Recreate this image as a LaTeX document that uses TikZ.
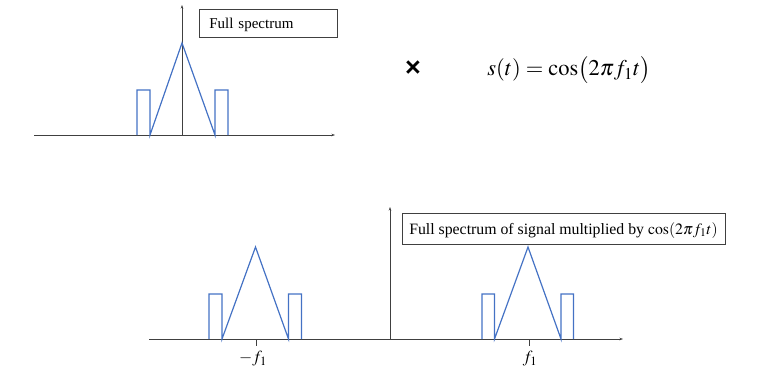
\documentclass[tikz,border=0pt]{standalone}
\usepackage{mathptmx}
\usepackage{fontspec}
\setmainfont{Liberation Serif}
\newfontfamily\crossfont{Liberation Sans}
\usetikzlibrary{arrows.meta}
\definecolor{specblue}{HTML}{4472C4}
\definecolor{axisgray}{HTML}{404040}
\tikzset{
  axisline/.style={draw=axisgray, line width=0.8pt, -{Stealth[length=3.5pt,width=2.5pt]}},
  specline/.style={draw=specblue, line width=1.2pt, line join=miter},
  labelbox/.style={draw=axisgray, line width=0.8pt, fill=white, inner sep=0pt, font=\fontsize{15}{17}\selectfont, text height=14pt, text depth=3pt},
  ticklbl/.style={font=\fontsize{17}{19}\selectfont, inner sep=1pt}
}
\begin{document}
\begin{tikzpicture}[x=1pt,y=-1pt]
\useasboundingbox (0,0) rectangle (770,386);
% ---- top plot
\coordinate (tx0) at (34,135);
\coordinate (tx1) at (335,135);
\coordinate (ty0) at (182,135);
\coordinate (ty1) at (182,5);
\draw[axisline] (tx0) -- (tx1);
\draw[axisline] (ty0) -- (ty1);
\draw[specline] (137,135) -- (137,90) -- (150,90) -- (150,135) -- (182,43) -- (215,135) -- (215,90) -- (228,90) -- (228,135);
\node[labelbox, minimum width=138.5pt, minimum height=28pt, text width=118pt, align=left] (boxA) at (268.3,23) {Full spectrum};
% ---- multiply and s(t)
\node[font=\crossfont\bfseries\fontsize{27}{29}\selectfont, inner sep=0pt] (times) at (413,69) {×};
\node[font=\fontsize{22.5}{24}\selectfont] (eq) at (569,70) {$s(t) = \cos\bigl(2\pi f_1 t\bigr)$};
% ---- bottom plot
\coordinate (bx0) at (149,339);
\coordinate (bx1) at (623,339);
\coordinate (by0) at (390,339);
\coordinate (by1) at (390,207);
\draw[axisline] (bx0) -- (bx1);
\draw[axisline] (by0) -- (by1);
\draw[specline] (209,339) -- (209,294) -- (222,294) -- (222,339) -- (255.5,247) -- (288.5,339) -- (288.5,294) -- (301.5,294) -- (301.5,339);
\draw[specline] (482,339) -- (482,294) -- (494.5,294) -- (494.5,339) -- (528,247) -- (561,339) -- (561,294) -- (573.5,294) -- (573.5,339);
\coordinate (tl0) at (256,339);
\coordinate (tl1) at (256,346);
\coordinate (tr0) at (529,339);
\coordinate (tr1) at (529,346);
\draw[axisgray, line width=0.8pt] (tl0) -- (tl1);
\draw[axisgray, line width=0.8pt] (tr0) -- (tr1);
\node[ticklbl, anchor=north] (lblL) at (253,350) {$-f_1$};
\node[ticklbl, anchor=north] (lblR) at (530,350) {$f_1$};
\node[labelbox, font=\fontsize{15.8}{18}\selectfont, minimum width=323pt, minimum height=31pt] (boxB) at (563.5,228.5) {Full spectrum of signal multiplied by $\cos(2\pi f_1 t)$};
\end{tikzpicture}
\end{document}
